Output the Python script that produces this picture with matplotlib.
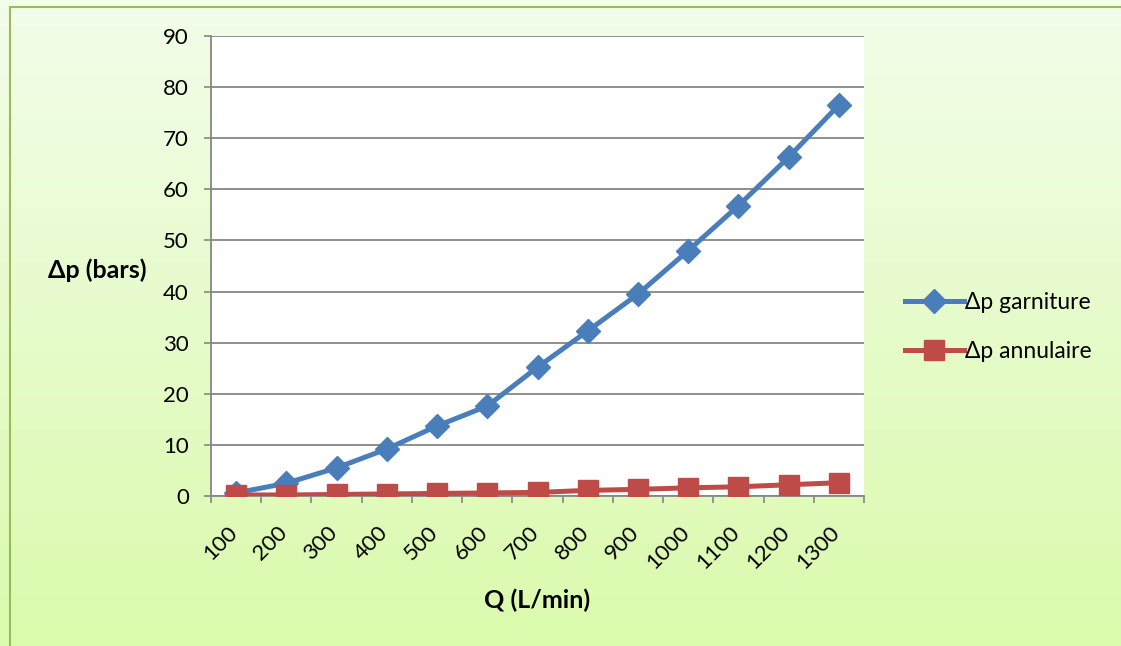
import numpy as np
import matplotlib.pyplot as plt
import matplotlib.transforms as mtransforms
from matplotlib.patches import Rectangle

plt.rcParams['font.family'] = ['Lato', 'DejaVu Sans']

q_labels = ["100", "200", "300", "400", "500", "600", "700",
            "800", "900", "1000", "1100", "1200", "1300"]
dp_garniture = [0.6, 2.5, 5.5, 9.2, 13.7, 17.6, 25.2, 32.3, 39.5, 48.0, 56.8, 66.3, 76.5]
dp_annulaire = [0.2, 0.2, 0.3, 0.4, 0.5, 0.6, 0.7, 1.1, 1.3, 1.6, 1.8, 2.2, 2.6]

W, H = 1121, 646
fig = plt.figure(figsize=(W / 100, H / 100), dpi=100)

# gradient background
bg = fig.add_axes([0, 0, 1, 1], zorder=-10)
top = np.array([243, 253, 234]) / 255
bot = np.array([218, 250, 172]) / 255
t = np.linspace(0, 1, 200)[:, None]
grad = top[None, :] * (1 - t) + bot[None, :] * t
bg.imshow(grad[:, None, :], aspect='auto', extent=[0, 1, 0, 1])
bg.add_patch(Rectangle((10 / W, -0.1), 1.2, 1 - 7 / H + 0.1, fill=False,
                       edgecolor='#9BBB59', linewidth=1.5, transform=bg.transAxes))
bg.set_xlim(0, 1)
bg.set_ylim(0, 1)
bg.axis('off')

ax = fig.add_axes([211 / W, 150 / H, 653 / W, 460 / H])
ax.set_facecolor('white')
x = np.arange(len(q_labels))

ax.plot(x, dp_garniture, color='#4A7EBB', linewidth=3.6, marker='D',
        markersize=12.5, label='Δp garniture', zorder=3)
ax.plot(x, dp_annulaire, color='#BE4B48', linewidth=3.6, marker='s',
        markersize=14.5, label='Δp annulaire', zorder=3)

ax.set_xlim(-0.5, len(q_labels) - 0.5)
ax.set_ylim(0, 90)
ax.set_yticks(np.arange(0, 91, 10))
ax.yaxis.grid(True, color='#868686', linewidth=1.3)
ax.set_axisbelow(True)

ax.set_xticks(x)
ax.set_xticklabels(q_labels, rotation=45, fontsize=16)
ax.tick_params(axis='x', length=0, pad=19)
ax.set_xticks(np.arange(-0.5, len(q_labels), 1), minor=True)
ax.tick_params(axis='x', which='minor', length=5, color='#868686', width=1.2)
shift = mtransforms.ScaledTranslation(5 / 100, 0, fig.dpi_scale_trans)
for lbl in ax.get_xticklabels():
    lbl.set_ha('right')
    lbl.set_va('top')
    lbl.set_transform(lbl.get_transform() + shift)
ax.tick_params(axis='y', length=5, color='#868686', width=1.2, labelsize=16, pad=11)

for s in ['top', 'right']:
    ax.spines[s].set_visible(False)
for s in ['left', 'bottom']:
    ax.spines[s].set_color('#868686')
    ax.spines[s].set_linewidth(1.3)

fig.text(537 / W, 1 - 600 / H, 'Q (L/min)', ha='center', va='center',
         fontsize=18, fontweight='bold')
fig.text(97 / W, 1 - 270 / H, 'Δp (bars)', ha='center', va='center',
         fontsize=18, fontweight='bold')

ax.legend(loc='center left', bbox_to_anchor=(884 / W, 1 - 327 / H),
          bbox_transform=fig.transFigure, frameon=False, fontsize=16.5,
          handlelength=2.6, handletextpad=0.05, labelspacing=1.25)

fig.savefig('out.png', dpi=100)
